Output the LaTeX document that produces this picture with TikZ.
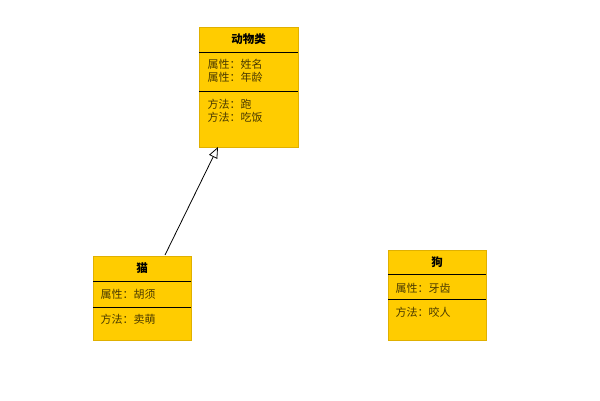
\documentclass[tikz,border=0pt]{standalone}
\usepackage{fontspec}
\newfontfamily\cjk{Noto Sans CJK SC}
\usetikzlibrary{arrows.meta}
\definecolor{cfill}{HTML}{FFCC00}
\definecolor{cbord}{HTML}{E0B000}
\definecolor{ctext}{HTML}{4A3A00}
\tikzset{
  cls/.style={draw=cbord,fill=cfill,line width=1pt,inner sep=0pt},
  title/.style={font=\cjk\bfseries\fontsize{11.5}{13}\selectfont,text=black},
  item/.style={font=\cjk\fontsize{11}{13}\selectfont,text=ctext,anchor=west,align=left},
  sep/.style={line width=0.9pt}
}
\begin{document}
\begin{tikzpicture}[x=1pt,y=-1pt]
\useasboundingbox (0,0) rectangle (600,400);
% Animal
\node[cls,minimum width=99pt,minimum height=120pt] (animal) at (248.5,87) {};
\draw[sep] (199,52) -- (298,52);
\draw[sep] (199,91) -- (298,91);
\node[title] (animalt) at (248.5,39.5) {动物类};
\node[item] (animala) at (204,71) {属性：姓名\\属性：年龄};
\node[item] (animalm) at (204,111) {方法：跑\\方法：吃饭};
% Cat
\node[cls,minimum width=98pt,minimum height=84pt] (cat) at (142,298) {};
\draw[sep] (93,281) -- (191,281);
\draw[sep] (93,307) -- (191,307);
\node[title] (catt) at (142,268.5) {猫};
\node[item] (cata) at (97,294.5) {属性：胡须};
\node[item] (catm) at (97,319) {方法：卖萌};
% Dog
\node[cls,minimum width=98pt,minimum height=90pt] (dog) at (437,295) {};
\draw[sep] (388,274) -- (486,274);
\draw[sep] (388,299) -- (486,299);
\node[title] (dogt) at (437,262) {狗};
\node[item] (doga) at (392,288) {属性：牙齿};
\node[item] (dogm) at (392,312) {方法：咬人};
% inheritance
\coordinate (cattop) at (165,255);
\coordinate (animalbot) at (218,147);
\draw[-{Triangle[open,length=11pt,width=9pt]},line width=0.8pt] (cattop) -- (animalbot);
\end{tikzpicture}
\end{document}
